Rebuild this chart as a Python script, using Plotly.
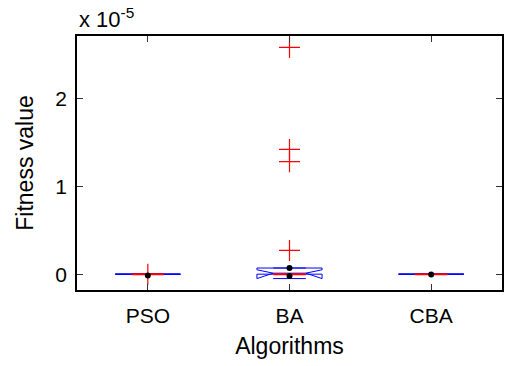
import plotly.graph_objects as go

# ---- data (units of 1e-5 scaled below) ----
algorithms = ["PSO", "BA", "CBA"]
positions = [1, 2, 3]
q1 = [0.0, 0.0, 0.0]
median = [0.0, 0.0, 0.0]
q3 = [0.0, 0.07, 0.0]
lower_whisker = [0.0, 0.0, 0.0]
upper_whisker = [0.0, 0.07, 0.0]
notch_span = [0.0, 0.05, 0.0]
outlier_x = [1, 2, 2, 2, 2]
outlier_y = [0.0, 2.58, 1.42, 1.28, 0.27]
dot_x = [1, 2, 2, 3]
dot_y = [-0.015, 0.07, -0.02, -0.005]
scale = 1e-5
y_ticks = [0, 1, 2]

BOX_W = 0.46

fig = go.Figure()
fig.add_trace(go.Box(
    x=positions,
    q1=[v * scale for v in q1],
    median=[v * scale for v in median],
    q3=[v * scale for v in q3],
    lowerfence=[v * scale for v in lower_whisker],
    upperfence=[v * scale for v in upper_whisker],
    notchspan=[v * scale for v in notch_span],
    notched=True, notchwidth=0.25,
    width=BOX_W,
    line=dict(color="#0000ff", width=1),
    fillcolor="rgba(0,0,0,0)",
    boxpoints=False, hoverinfo="skip", showlegend=False,
))
for p, m in zip(positions, median):
    fig.add_trace(go.Scatter(
        x=[p - BOX_W / 4, p + BOX_W / 4], y=[m * scale, m * scale],
        mode="lines", line=dict(color="#ff0000", width=2),
        showlegend=False, hoverinfo="skip"))
fig.add_trace(go.Scatter(
    x=outlier_x, y=[v * scale for v in outlier_y], mode="markers",
    marker=dict(symbol="cross-thin", size=15, color="#ff0000",
                line=dict(color="#ff0000", width=1.2)),
    showlegend=False, hoverinfo="skip"))
fig.add_trace(go.Scatter(
    x=dot_x, y=[v * scale for v in dot_y], mode="markers",
    marker=dict(symbol="circle", size=6, color="black"),
    showlegend=False, hoverinfo="skip"))

font = dict(family="Liberation Sans, Arial, sans-serif", size=21, color="black")
fig.update_layout(
    width=505, height=366,
    margin=dict(l=77, r=1, t=36, b=76),
    paper_bgcolor="white", plot_bgcolor="white",
    font=font,
    xaxis=dict(
        range=[0.5, 3.5], tickvals=positions, ticktext=algorithms,
        ticks="inside", ticklen=6, tickcolor="#333", mirror="allticks",
        showline=True, linecolor="black", linewidth=1.5, showgrid=False, zeroline=False,
        title=dict(text="Algorithms", font=dict(size=23), standoff=12),
        tickfont=dict(size=21), ticklabelstandoff=6,
    ),
    yaxis=dict(
        range=[-0.18 * scale, 2.71 * scale],
        tickvals=[t * scale for t in y_ticks], ticktext=[str(t) for t in y_ticks],
        ticks="inside", ticklen=6, tickcolor="#333", mirror="allticks",
        showline=True, linecolor="black", linewidth=1.5, showgrid=False, zeroline=False,
        title=dict(text="Fitness value", font=dict(size=23), standoff=15),
        tickfont=dict(size=21), ticklabelstandoff=4,
    ),
    annotations=[dict(
        text="x 10<sup>-5</sup>", xref="paper", yref="paper", x=0, y=1,
        xanchor="left", yanchor="bottom", showarrow=False, yshift=2,
        font=dict(size=22))],
)
fig.write_html("out.html")
